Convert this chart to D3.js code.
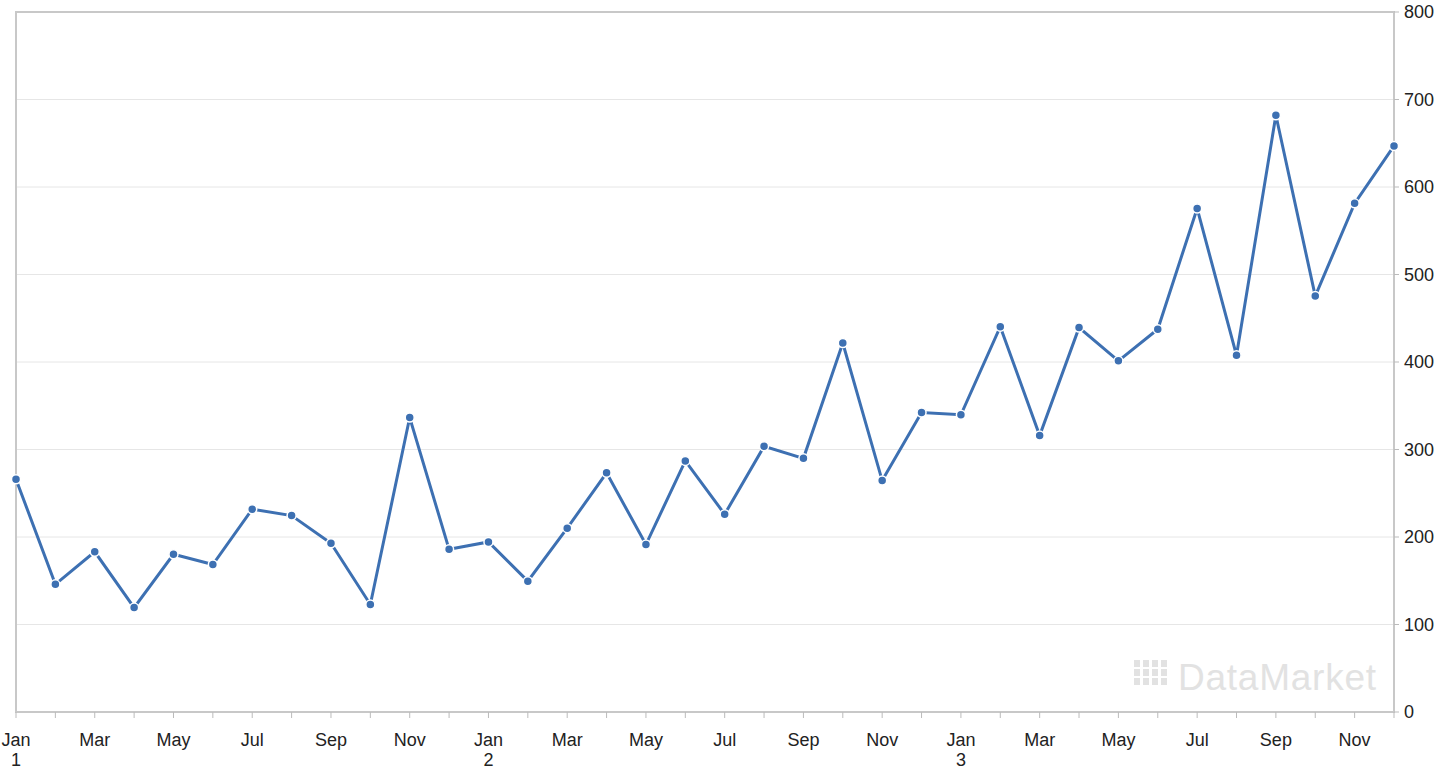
<!DOCTYPE html>
<html><head><meta charset="utf-8">
<script src="https://cdn.jsdelivr.net/npm/d3@7"></script>
<style>body{margin:0;background:#fff}text{font-family:"Helvetica Neue",Arial,"Liberation Sans",sans-serif}</style>
</head><body>
<svg id="c" width="1438" height="776"></svg>
<script>
const months = ["Jan","Feb","Mar","Apr","May","Jun","Jul","Aug","Sep","Oct","Nov","Dec"];
const years = ["1","2","3"];
const sales = [266.0,145.9,183.1,119.3,180.3,168.5,231.8,224.5,192.8,122.9,336.5,185.9,
194.3,149.5,210.1,273.3,191.4,287.0,226.0,303.6,289.9,421.6,264.5,342.3,
339.7,440.4,315.9,439.3,401.3,437.4,575.5,407.6,682.0,475.3,581.3,646.9];
const yTicks = [0,100,200,300,400,500,600,700,800];

const svg = d3.select("#c");
const L=16,R=1394,T=12,B=712;
const x = d3.scaleLinear().domain([0,sales.length-1]).range([L,R]);
const y = d3.scaleLinear().domain([0,800]).range([B,T]);

svg.append("g").selectAll("line").data(yTicks).join("line")
 .attr("x1",L).attr("x2",R).attr("y1",d=>y(d)).attr("y2",d=>y(d))
 .attr("stroke","#e6e6e6").attr("stroke-width",1);
svg.append("rect").attr("x",L).attr("y",T).attr("width",R-L).attr("height",B-T)
 .attr("fill","none").attr("stroke","#c8c8c8").attr("stroke-width",2);

svg.append("g").selectAll("text").data(yTicks).join("text")
 .attr("x",1404).attr("y",d=>y(d)+6).attr("font-size",18).attr("fill","#222").text(d=>d);
svg.append("g").selectAll("line").data(yTicks).join("line")
 .attr("x1",R).attr("x2",R+5).attr("y1",d=>y(d)).attr("y2",d=>y(d)).attr("stroke","#bbb");

const idx = d3.range(sales.length);
svg.append("g").selectAll("line").data(idx).join("line")
 .attr("x1",d=>x(d)).attr("x2",d=>x(d)).attr("y1",B).attr("y2",B+6).attr("stroke","#bbb");
const lab = svg.append("g").selectAll("text").data(idx.filter(i=>i%2===0)).join("text")
 .attr("x",d=>x(d)).attr("y",B+34).attr("font-size",18).attr("fill","#222").attr("text-anchor","middle");
lab.append("tspan").text(d=>months[d%12]);
lab.filter(d=>d%12===0).append("tspan").attr("x",d=>x(d)).attr("dy",20).text(d=>years[d/12]);

svg.append("text").attr("x",1376).attr("y",690).attr("text-anchor","end").attr("font-size",37)
 .attr("textLength",198).attr("fill","#e2e2e2").text("DataMarket");
svg.append("g").selectAll("rect").data(d3.range(12)).join("rect")
 .attr("x",d=>1134+(d%4)*9).attr("y",d=>660+Math.floor(d/4)*9).attr("width",6).attr("height",7)
 .attr("fill","#e2e2e2");

svg.append("path").datum(sales).attr("fill","none").attr("stroke","#3d70b2").attr("stroke-width",3)
 .attr("d",d3.line().x((d,i)=>x(i)).y(d=>y(d)));
svg.append("g").selectAll("circle").data(sales).join("circle")
 .attr("cx",(d,i)=>x(i)).attr("cy",d=>y(d)).attr("r",4.5).attr("fill","#3d70b2")
 .attr("stroke","#fff").attr("stroke-width",1.5);
</script></body></html>
